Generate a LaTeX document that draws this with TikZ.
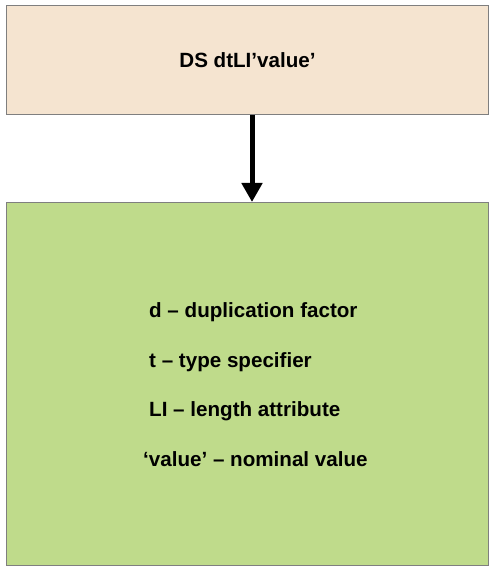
\documentclass[tikz,border=0pt]{standalone}
\usepackage{fontspec}
\setmainfont{Liberation Sans}
\usepackage{tikz}
\usepackage{xcolor}
\usetikzlibrary{arrows.meta}
\definecolor{peach}{HTML}{F5E4D0}
\definecolor{olive}{HTML}{BFDB8B}
\definecolor{edge}{HTML}{7F7F7F}

\begin{document}
\begin{tikzpicture}[x=1pt,y=1pt,
    box/.style={draw=edge,line width=1pt,minimum width=482pt,inner sep=0pt},
    item/.style={anchor=base west,inner sep=0pt,font=\fontsize{20.6}{24}\selectfont\bfseries}]
                \useasboundingbox (0,0) rectangle (495,571);
                
                % Statement
                \node[box,fill=peach,minimum height=109pt,font=\fontsize{20.6}{24}\selectfont\bfseries] (stmt) at (247.5,511) {DS dtLI’value’};
                
                % Operands
                \node[box,fill=olive,minimum height=363.5pt] (parts) at (247.5,186.75) {};
                \node[item] (dup) at (149,253) {d – duplication factor};
                \node[item] (typ) at (149,203) {t – type specifier};
                \node[item] (len) at (149,154) {LI – length attribute};
                \node[item] (val) at (143,104) {‘value’ – nominal value};
                
                % Arrow
                \draw[line width=5pt,-{Triangle[width=20pt,length=19pt]}] (stmt.south -| 252,0) -- (parts.north -| 252,0);
            \end{tikzpicture}
\end{document}
